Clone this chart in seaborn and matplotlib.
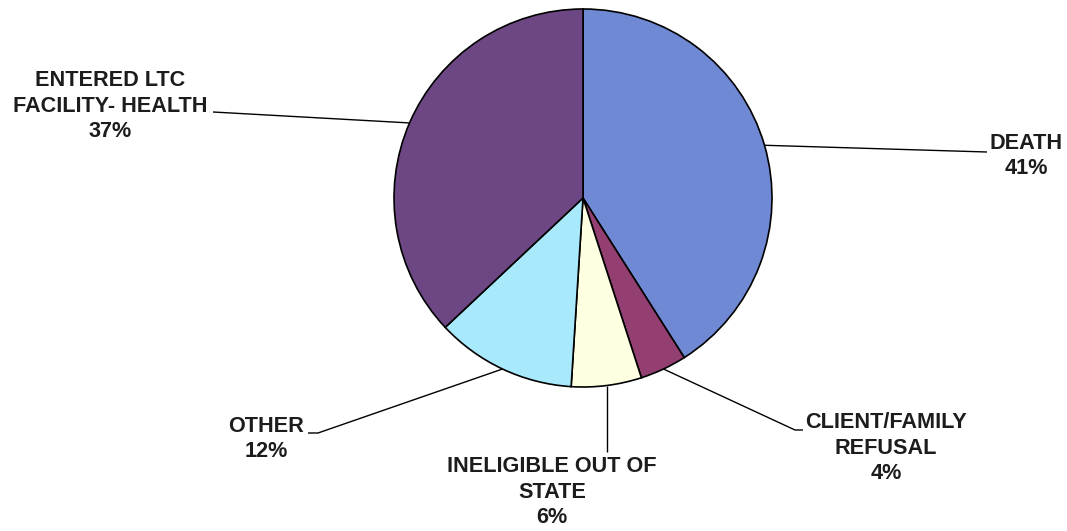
import numpy as np
import matplotlib
matplotlib.use("Agg")
import matplotlib.pyplot as plt
import seaborn as sns

# Discharge reasons, clockwise from 12 o'clock
categories = ["DEATH", "CLIENT/FAMILY\nREFUSAL", "INELIGIBLE OUT OF\nSTATE", "OTHER",
              "ENTERED LTC\nFACILITY- HEALTH"]
percents = [41, 4, 6, 12, 37]
colors = ["#7089D4", "#943F72", "#FFFFE2", "#A8E9FB", "#6D4783"]

sns.set_theme(style="white")
plt.rcParams["font.family"] = ["Liberation Sans", "DejaVu Sans"]

W, H = 1067, 531
fig = plt.figure(figsize=(W / 100, H / 100), dpi=100)
ax = fig.add_axes([0, 0, 1, 1])

center = (583, 333)
radius = 189
wedges, _ = ax.pie(percents, colors=colors, startangle=90, counterclock=False,
                   center=center, radius=radius, frame=True,
                   wedgeprops=dict(edgecolor="black", linewidth=1.2))
ax.set_xlim(0, W)
ax.set_ylim(0, H)
ax.set_aspect("equal")
ax.axis("off")

# label anchor (text centre) and leader path after leaving the pie rim
label_pos = [(1026, 375), (886, 83), (552, 39), (266, 92), (110, 425)]
leader_paths = [
    [(987, 379)],
    [(795, 101), (803, 101)],
    [None],
    [(318, 98), (308, 98)],
    [(213, 419)],
]

for w, cat, pct, pos, path in zip(wedges, categories, percents, label_pos, leader_paths):
    mid = np.deg2rad((w.theta1 + w.theta2) / 2)
    x0 = center[0] + radius * np.cos(mid)
    y0 = center[1] + radius * np.sin(mid)
    xs, ys = [x0], [y0]
    for p in path:
        if p is None:
            xs.append(x0)
            ys.append(79)
        else:
            xs.append(p[0])
            ys.append(p[1])
    ax.plot(xs, ys, color="black", linewidth=1.0, solid_capstyle="butt")
    ax.text(pos[0], pos[1], f"{cat}\n{pct}%", ha="center", va="center",
            multialignment="center", fontsize=15.6, fontweight="bold",
            color="#1c1c1c", linespacing=1.27)

fig.savefig("out.png", dpi=100, facecolor="white")
